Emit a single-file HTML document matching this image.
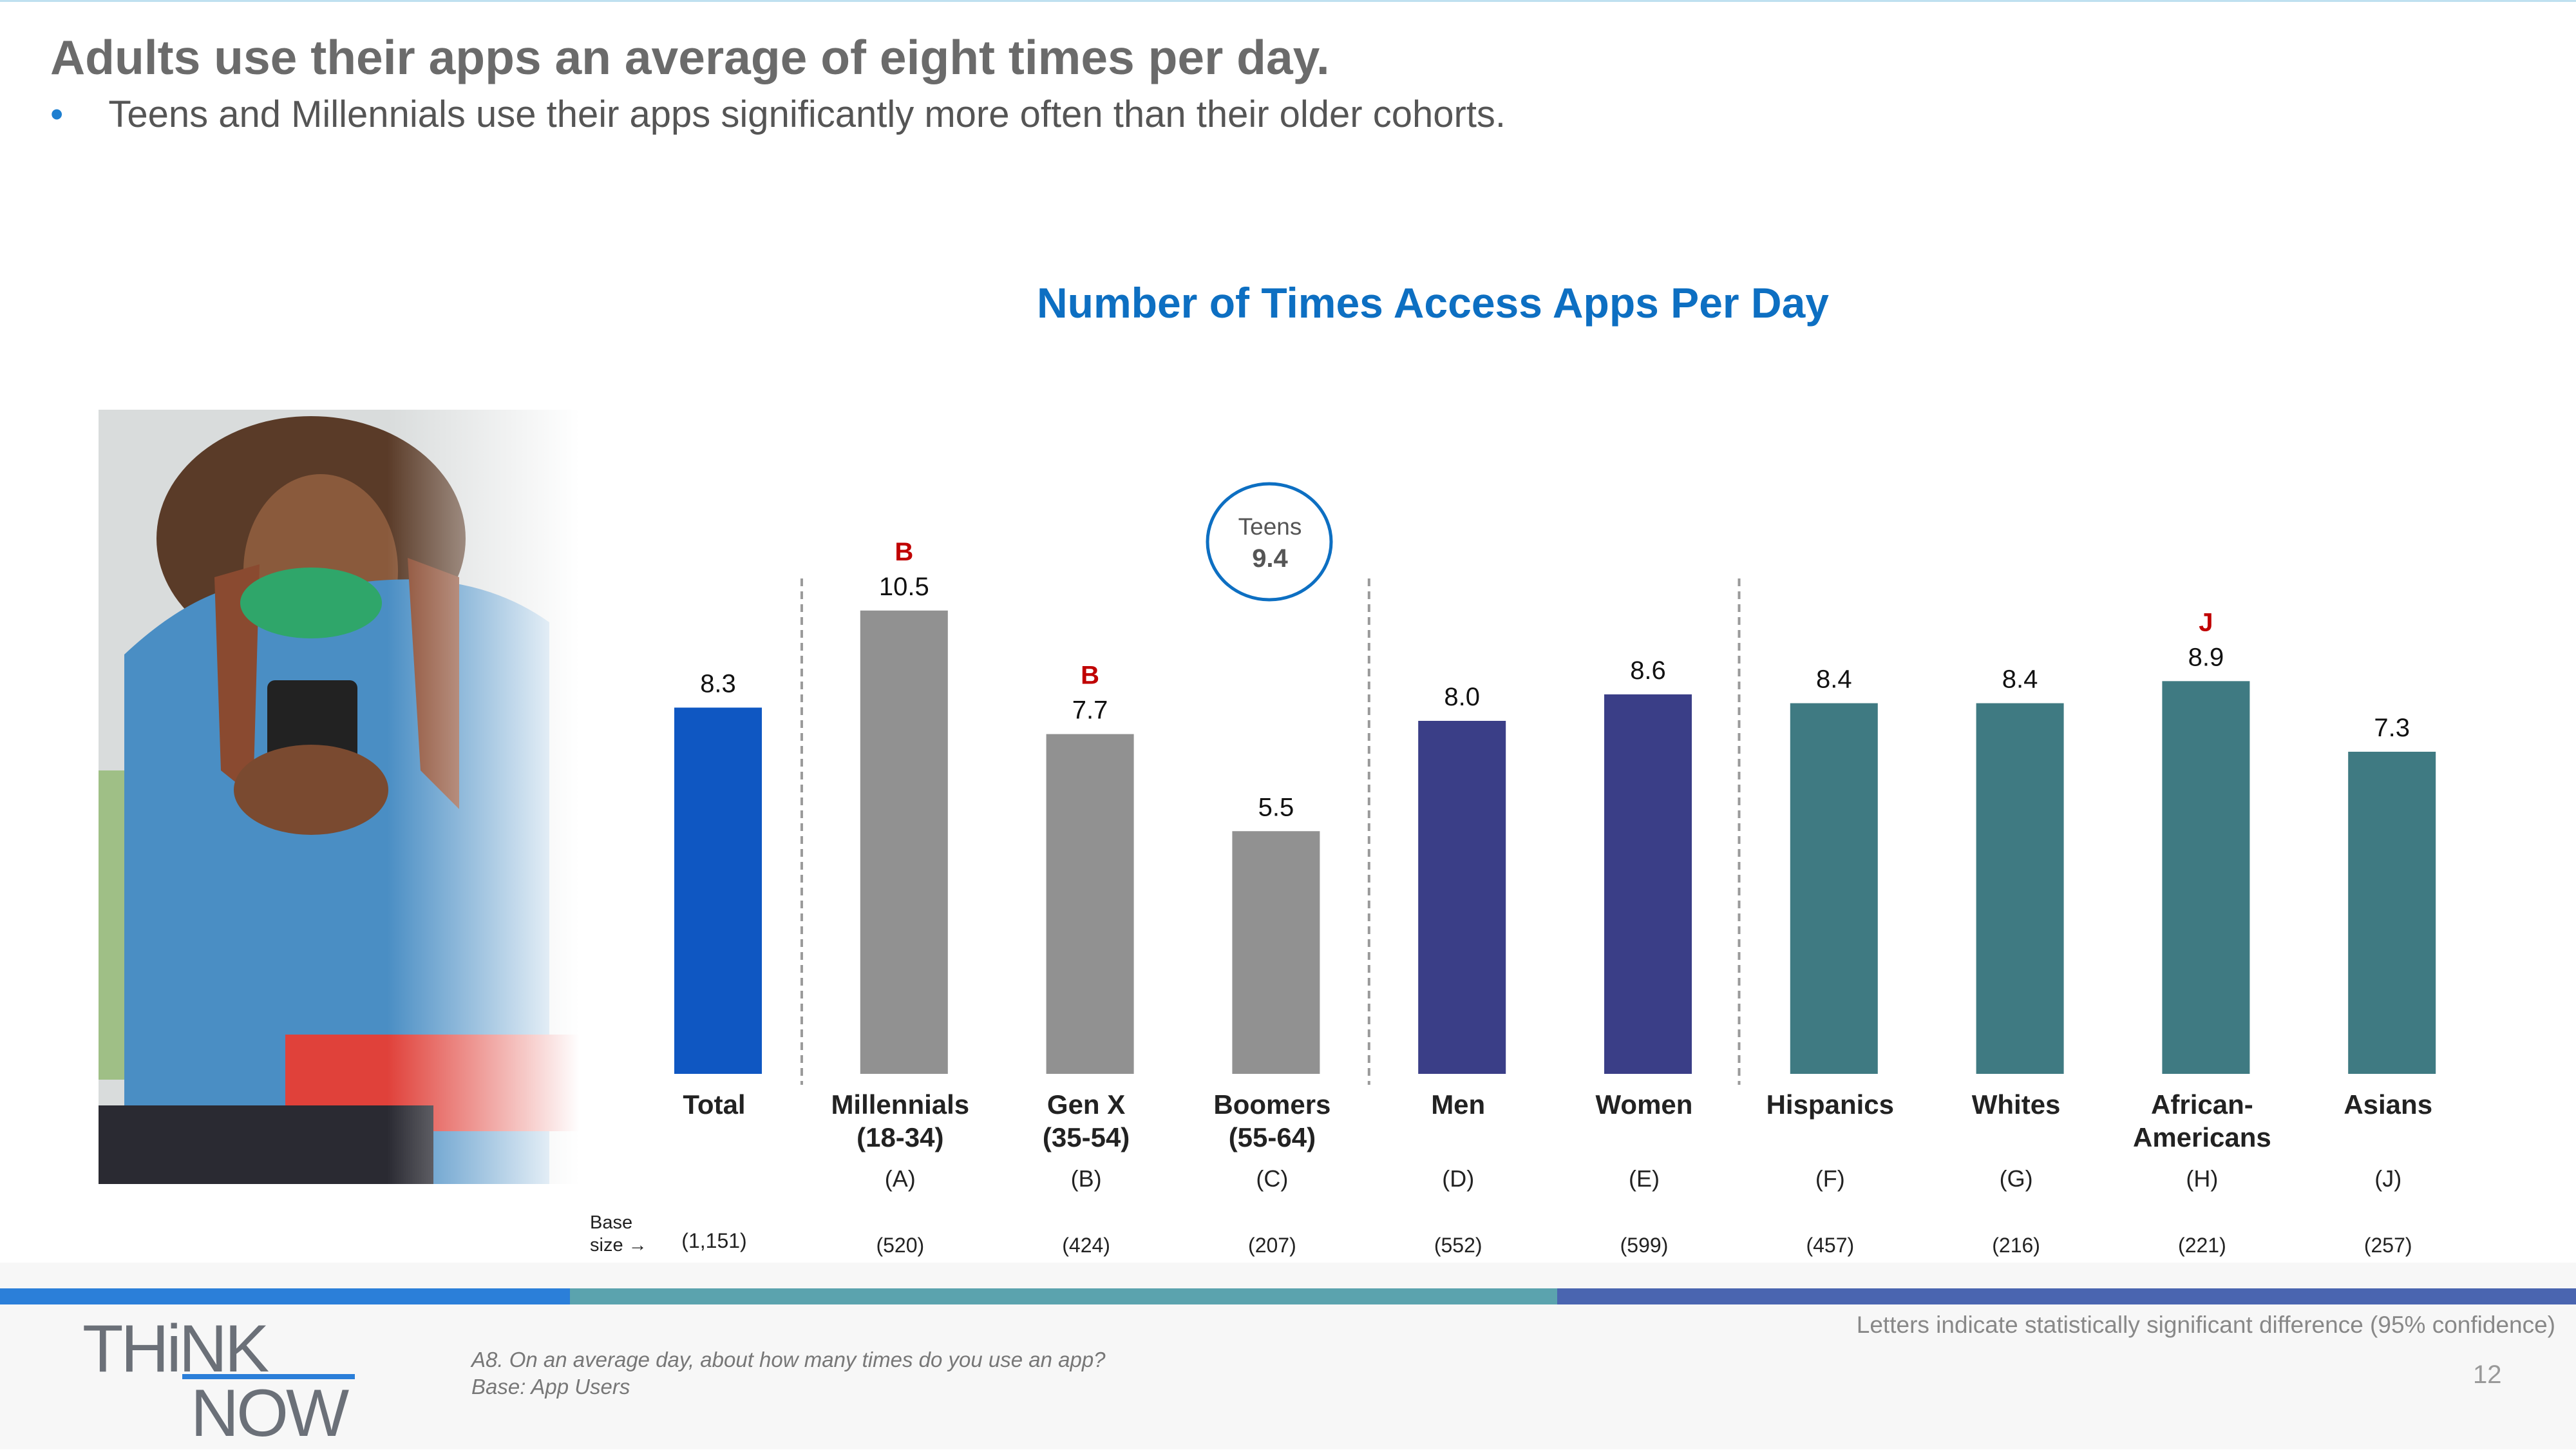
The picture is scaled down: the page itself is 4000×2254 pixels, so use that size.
<!DOCTYPE html>
<html><head><meta charset="utf-8">
<style>
html,body{margin:0;padding:0;}
body{width:4000px;height:2250px;position:relative;background:#fff;overflow:hidden;font-family:"Liberation Sans",Arial,sans-serif;}
.abs{position:absolute;}
</style></head>
<body>
<div class="abs" style="left:0;top:0;width:4000px;height:3px;background:#bfe0f0;"></div>
<div class="abs" style="left:78px;top:46px;font-size:75px;font-weight:bold;color:#6b6b6b;">Adults use their apps an average of eight times per day.</div>
<div class="abs" style="left:78px;top:144px;font-size:58px;color:#555;"><span style="color:#1e7fd0;margin-right:70px;">•</span>Teens and Millennials use their apps significantly more often than their older cohorts.</div>

<svg class="abs" style="left:153px;top:636px;" width="747" height="1202" viewBox="0 0 747 1202">
<defs>
<linearGradient id="fade" x1="0" x2="1" y1="0" y2="0"><stop offset="0.6" stop-color="#fff" stop-opacity="0"/><stop offset="1" stop-color="#fff" stop-opacity="1"/></linearGradient>
</defs>
<rect width="747" height="1202" fill="#d9dcdc"/>
<rect x="0" y="560" width="110" height="480" fill="#9fbf86"/>
<ellipse cx="330" cy="200" rx="240" ry="190" fill="#5a3b28"/>
<ellipse cx="345" cy="250" rx="120" ry="150" fill="#8a5a3c"/>
<path d="M40 1202 L40 380 Q200 230 340 280 Q560 230 700 330 L700 1202 Z" fill="#4a8ec4"/>
<path d="M180 260 L250 240 L240 600 L190 560 Z" fill="#8a4a30"/>
<path d="M480 230 L560 260 L560 620 L500 560 Z" fill="#8a4a30"/>
<ellipse cx="330" cy="300" rx="110" ry="55" fill="#2fa66a"/>
<rect x="262" y="420" width="140" height="220" rx="12" fill="#222"/>
<ellipse cx="330" cy="590" rx="120" ry="70" fill="#7a4a30"/>
<rect x="290" y="970" width="457" height="150" fill="#e0413a"/>
<rect x="0" y="1080" width="520" height="122" fill="#2a2a32"/>
<rect width="747" height="1202" fill="url(#fade)"/>
</svg>

<div class="abs" style="left:1400px;top:432px;width:1650px;text-align:center;font-size:66px;font-weight:bold;color:#0d6fc2;">Number of Times Access Apps Per Day</div>

<svg class="abs" id="chart" style="left:0;top:0;" width="4000" height="2250"></svg>

<div class="abs" style="left:0;top:1960px;width:4000px;height:290px;background:#f7f7f7;"></div>
<div class="abs" style="left:0;top:2000px;width:885px;height:25px;background:#2b7fd9;"></div>
<div class="abs" style="left:885px;top:2000px;width:1533px;height:25px;background:#5ba3ae;"></div>
<div class="abs" style="left:2418px;top:2000px;width:1582px;height:25px;background:#4a65b0;"></div>
<div class="abs" style="left:128px;top:2035px;font-size:104px;color:#6b7078;letter-spacing:-4px;">THiNK</div>
<div class="abs" style="left:283px;top:2133px;width:268px;height:8px;background:#2b7fd9;"></div>
<div class="abs" style="left:296px;top:2135px;font-size:104px;color:#6b7078;letter-spacing:-4px;">NOW</div>
<div class="abs" style="left:732px;top:2090px;font-size:33px;font-style:italic;color:#777;line-height:42px;">A8. On an average day, about how many times do you use an app?<br>Base: App Users</div>
<div class="abs" style="right:32px;top:2036px;font-size:37px;color:#888;">Letters indicate statistically significant difference (95% confidence)</div>
<div class="abs" style="left:3840px;top:2112px;font-size:40px;color:#999;">12</div>

<script>
const categories = ["Total","Millennials|(18-34)","Gen X|(35-54)","Boomers|(55-64)","Men","Women","Hispanics","Whites","African-|Americans","Asians"];
const values = [8.3,10.5,7.7,5.5,8.0,8.6,8.4,8.4,8.9,7.3];
const letters = ["","(A)","(B)","(C)","(D)","(E)","(F)","(G)","(H)","(J)"];
const sigLetters = ["","B","B","","","","","","J",""];
const baseSizes = ["(1,151)","(520)","(424)","(207)","(552)","(599)","(457)","(216)","(221)","(257)"];
const colors = ["#0f57c2","#919191","#919191","#919191","#3a3e87","#3a3e87","#3f7a82","#3f7a82","#3f7a82","#3f7a82"];
const dividers = [0.45,3.5,5.49];
const teensValue = "9.4";

const svg = document.getElementById('chart');
const NS = "http://www.w3.org/2000/svg";
const x0 = 1115, step = 288.8, baseY = 1667, ppu = 68.5, bw = 136;
const xPos = i => x0 + i*step;
const yPos = v => baseY - v*ppu;
function mk(tag, attrs, text){const e=document.createElementNS(NS,tag);for(const k in attrs)e.setAttribute(k,attrs[k]);if(text!==undefined)e.textContent=text;svg.appendChild(e);return e;}

dividers.forEach((d,i)=>{
  const l = mk('line',{x1:xPos(d),x2:xPos(d),y1:898,y2:1684,stroke:'#9a9a9a','stroke-width':4,'stroke-dasharray':'12 8'});
  
  
});

values.forEach((v,i)=>{
  const cx = xPos(i);
  const r = mk('rect',{x:cx-bw/2,y:yPos(v),width:bw,height:v*ppu,fill:colors[i]});
  
  
  const t = mk('text',{x:cx,y:yPos(v)-24,'text-anchor':'middle','font-size':40,fill:'#111','font-family':'Liberation Sans, sans-serif'},v.toFixed(1));
  
  
  if(sigLetters[i]){
    const s = mk('text',{x:cx,y:yPos(v)-78,'text-anchor':'middle','font-size':40,'font-weight':'bold',fill:'#c00000','font-family':'Liberation Sans, sans-serif'},sigLetters[i]);
    
    
  }
  const lines = categories[i].split('|');
  lines.forEach((ln,j)=>{
    const c = mk('text',{x:cx-6,y:1729+j*51,'text-anchor':'middle','font-size':42,'font-weight':'bold',fill:'#222','font-family':'Liberation Sans, sans-serif'},ln);
    
    
  });
  if(letters[i]){
    const lt = mk('text',{x:cx-6,y:1842,'text-anchor':'middle','font-size':36,fill:'#222','font-family':'Liberation Sans, sans-serif'},letters[i]);
    
    
  }
  const b = mk('text',{x:cx-6,y:i===0?1937:1944,'text-anchor':'middle','font-size':32,fill:'#222','font-family':'Liberation Sans, sans-serif'},baseSizes[i]);
  
  
});

const bl1 = mk('text',{x:916,y:1907,'font-size':29,fill:'#222','font-family':'Liberation Sans, sans-serif'},'Base');


const bl2 = mk('text',{x:916,y:1942,'font-size':29,fill:'#222','font-family':'Liberation Sans, sans-serif'},'size →');



const circ = mk('ellipse',{cx:1971,cy:841,rx:96,ry:90,fill:'none',stroke:'#0d6fc2','stroke-width':5});


const tt = mk('text',{x:1972,y:830,'text-anchor':'middle','font-size':37,fill:'#555','font-family':'Liberation Sans, sans-serif'},'Teens');


const tv = mk('text',{x:1972,y:880,'text-anchor':'middle','font-size':40,'font-weight':'bold',fill:'#555','font-family':'Liberation Sans, sans-serif'},teensValue);


</script>
</body></html>
